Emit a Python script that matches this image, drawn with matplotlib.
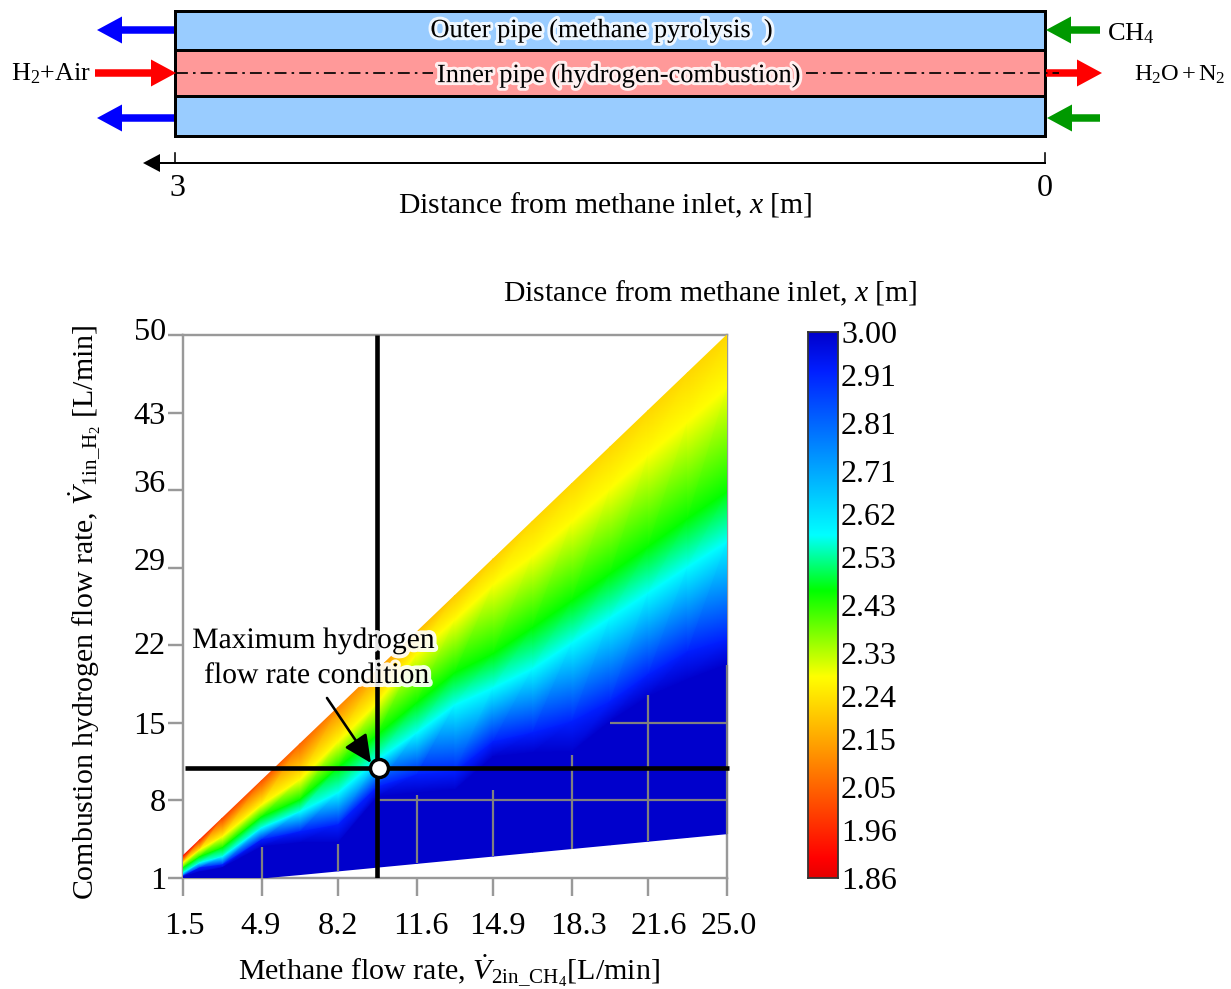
import numpy as np
import matplotlib
matplotlib.use("Agg")
import matplotlib.pyplot as plt
import matplotlib.tri as mtri
import matplotlib.patheffects as pe
from matplotlib.colors import LinearSegmentedColormap, Normalize
from matplotlib.patches import Rectangle, FancyArrow, FancyArrowPatch, Polygon
from matplotlib.transforms import ScaledTranslation

plt.rcParams['font.family'] = ['Liberation Serif', 'DejaVu Serif']
plt.rcParams['mathtext.fontset'] = 'custom'
plt.rcParams['mathtext.rm'] = 'Liberation Serif'
plt.rcParams['mathtext.it'] = 'Liberation Serif:italic'
plt.rcParams['mathtext.bf'] = 'Liberation Serif:bold'

# ---------- data ----------
x_ticks = [1.5, 4.9, 8.2, 11.6, 14.9, 18.3, 21.6, 25.0]
x_tick_labels = ['1.5', '4.9', '8.2', '11.6', '14.9', '18.3', '21.6', '25.0']
y_ticks = [1, 8, 15, 22, 29, 36, 43, 50]
cbar_ticks = [1.86, 1.96, 2.05, 2.15, 2.24, 2.33, 2.43, 2.53, 2.62, 2.71, 2.81, 2.91, 3.00]

# methane flow columns at which the distance bands were read
methane = [1.5, 2.23, 3.2, 4.9, 6.55, 8.2, 9.9, 11.6, 13.25, 14.9, 16.6, 18.3, 19.95, 21.6, 23.3, 25.0]
# hydrogen flow at the upper and lower limit of the mapped region
h2_top = [3.0, 4.46, 6.4, 9.8, 13.1, 16.4, 19.8, 23.2, 26.5, 29.8, 33.2, 36.6, 39.9, 43.2, 46.6, 50.0]
h2_bottom = [1.0, 1.0, 1.0, 1.0, 1.31, 1.64, 1.98, 2.32, 2.65, 2.98, 3.32, 3.66, 3.99, 4.32, 4.66, 5.0]
# distance on the upper limit
dist_top = [1.90, 1.95, 2.00, 2.02, 2.05, 2.10, 2.13, 2.18, 2.20, 2.21, 2.22, 2.22, 2.22, 2.22, 2.22, 2.22]
# hydrogen flow at which the distance reaches each band value
band_values = [2.28, 2.46, 2.576, 2.92, 3.0]
h2_yellow = [2.35, 3.53, 4.70, 7.59, 9.84, 13.27, 16.79, 21.2, 24.28, 27.44, 30.06, 33.13, 36.1, 39.17, 42.15, 45.22]
h2_green = [1.90, 2.90, 3.71, 6.50, 8.04, 10.93, 13.9, 16.79, 19.5, 21.21, 23.56, 26.0, 28.43, 30.87, 33.4, 35.83]
h2_cyan = [1.45, 2.35, 2.90, 5.51, 6.96, 8.67, 11.65, 14.08, 16.61, 18.15, 19.86, 22.2, 24.46, 26.72, 29.06, 31.32]
h2_blue = [1.18, 1.90, 2.17, 4.43, 5.15, 5.78, 9.21, 10.29, 10.57, 13.27, 14.08, 15.08, 16.88, 19.32, 21.39, 22.48]
h2_dark = [1.09, 1.54, 1.90, 3.80, 4.16, 4.16, 8.31, 8.67, 8.94, 11.92, 12.28, 12.37, 15.08, 17.33, 18.87, 20.22]

# maximum hydrogen flow rate condition
max_x, max_y = 9.9, 10.9

# grid segments that stay visible on the saturated (3.00) surface
sat_v_x = [4.9, 8.2, 11.6, 14.9, 18.3, 21.6, 25.0]
sat_v_top = [3.8, 4.07, 8.5, 8.9, 12.1, 17.5, 20.2]
sat_v_bottom = [1.0, 1.64, 2.32, 2.98, 3.66, 4.32, 5.0]
sat_h_y = [8, 15]
sat_h_left = [9.9, 19.95]

# ---------- figure ----------
W, H = 1231, 989
fig = plt.figure(figsize=(W / 100, H / 100), dpi=100)
px = 72 / 100  # points per pixel


def axpos(l, t, r, b):
    return [l / W, 1 - b / H, (r - l) / W, (b - t) / H]


# colormap with breaks at the band values
vmin, vmax = 1.86, 3.0
stops = [(1.86, (0.90, 0, 0)), (1.90, (1, 0, 0)), (2.28, (1, 1, 0)), (2.46, (0, 1, 0)),
         (2.576, (0, 1, 1)), (2.92, (0, 0.12, 1)), (3.0, (0, 0, 0.80))]
cmap = LinearSegmentedColormap.from_list('band', [((v - vmin) / (vmax - vmin), c) for v, c in stops], N=1024)
norm = Normalize(vmin, vmax)

# ---------- map ----------
ax = fig.add_axes(axpos(183, 335, 727, 878))
grid_c = '#999999'
ax.set_xlim(1.5, 25)
ax.set_ylim(1, 50)
ax.set_xticks(x_ticks)
ax.set_xticklabels(x_tick_labels)
ax.set_yticks(y_ticks)
ax.tick_params(axis='x', length=18 * px, width=2.4 * px, color=grid_c, labelsize=23.2, pad=16 * px)
ax.tick_params(axis='y', length=15 * px, width=2.4 * px, color=grid_c, labelsize=23.2, pad=2 * px)
ax.grid(True, color=grid_c, lw=2.4 * px, zorder=0)
ax.set_axisbelow(True)
for s in ax.spines.values():
    s.set_color(grid_c)
    s.set_linewidth(2.4 * px)
    s.set_zorder(0.5)

x_label_shift = [1, -1, 0, 4, 4, 7, 11, 2]
for lab, d in zip(ax.get_xticklabels(), x_label_shift):
    lab.set_transform(lab.get_transform() + ScaledTranslation(d / 100, 0, fig.dpi_scale_trans))
y_label_shift = [0, 0, 0, 2, 9, 9, 0, 6]
for lab, d in zip(ax.get_yticklabels(), y_label_shift):
    lab.set_transform(lab.get_transform() + ScaledTranslation(0, d / 100, fig.dpi_scale_trans))

columns = [h2_top, h2_yellow, h2_green, h2_cyan, h2_blue, h2_dark, h2_bottom]
nc, nl = len(methane), len(columns)
X = np.repeat(np.array(methane)[None, :], nl, axis=0)
Y = np.array(columns)
V = np.vstack([dist_top] + [np.full(nc, v) for v in band_values] + [np.full(nc, 3.0)])
tris = []
for j in range(nl - 1):
    for i in range(nc - 1):
        a = j * nc + i
        b = a + 1
        c = a + nc
        d = c + 1
        tris += [[a, b, c], [b, d, c]]
tri = mtri.Triangulation(X.ravel(), Y.ravel(), np.array(tris))
ax.tripcolor(tri, V.ravel(), cmap=cmap, norm=norm, shading='gouraud', zorder=1)

sat_c = '#808080'
for x0, yt, yb in zip(sat_v_x, sat_v_top, sat_v_bottom):
    ax.plot([x0, x0], [yb, yt], color=sat_c, lw=2.2 * px, zorder=2, solid_capstyle='butt', clip_on=False)
for y0, xl in zip(sat_h_y, sat_h_left):
    ax.plot([xl, 25], [y0, y0], color=sat_c, lw=2.2 * px, zorder=2, solid_capstyle='butt')

ax.plot([max_x - 0.02, max_x - 0.02], [1, 50], color='k', lw=4.6 * px, zorder=3, solid_capstyle='butt')
ax.plot([1.6, 25.1], [max_y, max_y], color='k', lw=4.6 * px, zorder=3, solid_capstyle='butt', clip_on=False)
ax.plot([max_x + 0.07], [max_y], 'o', ms=18 * px, mfc='white', mec='k', mew=3.4 * px, zorder=4)

# ---------- colorbar ----------
cax = fig.add_axes(axpos(808, 332, 838, 878))
grad = np.linspace(vmin, vmax, 1024)[:, None]
cax.imshow(grad, origin='lower', aspect='auto', cmap=cmap, norm=norm, extent=[0, 1, vmin, vmax])
cax.set_xticks([])
cax.yaxis.tick_right()
cax.set_yticks(cbar_ticks)
cax.set_yticklabels(['%.2f' % v for v in cbar_ticks])
cax.tick_params(axis='y', length=0, labelsize=23, pad=3 * px)
for s in cax.spines.values():
    s.set_color('#333333')
    s.set_linewidth(1.8 * px)

# ---------- schematic and labels in pixel space ----------
ov = fig.add_axes([0, 0, 1, 1], facecolor='none')
ov.set_xlim(0, W)
ov.set_ylim(H, 0)
ov.axis('off')

for (t, b, c) in [(11, 50, '#99CCFF'), (50, 96, '#FF9999'), (96, 136, '#99CCFF')]:
    ov.add_patch(Rectangle((175, t), 870, b - t, fc=c, ec='k', lw=3 * px, zorder=1))


def arrow(x0, x1, y, c):
    ov.add_patch(FancyArrow(x0, y, x1 - x0, 0, width=7.5, head_width=27, head_length=25,
                            length_includes_head=True, fc=c, ec='none', zorder=3))


arrow(174, 97, 30, '#0000FF')
arrow(174, 97, 118, '#0000FF')
arrow(1100, 1046, 30, '#009900')
arrow(1100, 1047, 118, '#009900')
arrow(95, 176, 73, '#FF0000')
arrow(1046, 1102, 73, '#FF0000')

for a, b in [(176, 433), (806, 1059)]:
    ov.plot([a, b], [73, 73], color='k', lw=1.7 * px, ls=(0, (7, 3, 1.5, 3)), zorder=4)

halo = [pe.withStroke(linewidth=6 * px, foreground='white', alpha=0.85)]
fs = 19
ov.text(602, 31, 'Outer pipe (methane pyrolysis  )', ha='center', va='center', fontsize=fs,
        path_effects=halo, zorder=5)
ov.text(619, 76, 'Inner pipe (hydrogen-combustion)', ha='center', va='center', fontsize=fs,
        path_effects=halo, zorder=5)
ov.text(11, 74, r'H$_2$+Air', ha='left', va='center', fontsize=18.8)
ov.text(1107, 34, r'CH$_4$', ha='left', va='center', fontsize=19)
ov.text(1134, 75, r'H$_2$O$\,$+$\,$N$_2$', ha='left', va='center', fontsize=17.6)

# dimension line
ov.plot([160, 1045], [163, 163], color='k', lw=2 * px, zorder=2)
ov.plot([175, 175], [153, 163], color='k', lw=1.6 * px)
ov.plot([1045, 1045], [153, 163], color='k', lw=1.6 * px)
ov.add_patch(Polygon([[143, 163], [160, 154], [160, 172]], closed=True, fc='k', ec='none'))
ov.text(177, 188, '3', ha='center', va='center', fontsize=23)
ov.text(1045, 188, '0', ha='center', va='center', fontsize=23)
ov.text(605, 205, r'Distance from methane inlet, $x$ [m]', ha='center', va='center', fontsize=21.3)
ov.text(710, 293, r'Distance from methane inlet, $x$ [m]', ha='center', va='center', fontsize=21.3)

ov.text(85, 612, r'Combustion hydrogen flow rate, $\dot{V}_{\mathrm{1in\_H_2}}$ [L/min]', rotation=90,
        ha='center', va='center', fontsize=21.5)
ov.text(449, 971, r'Methane flow rate, $\dot{V}_{\mathrm{2in\_CH_4}}$[L/min]', ha='center', va='center', fontsize=21.6)

halo2 = [pe.withStroke(linewidth=8 * px, foreground='white', alpha=0.9)]
ov.text(314, 641, 'Maximum hydrogen', ha='center', va='center', fontsize=21.3, path_effects=halo2, zorder=6)
ov.text(317, 676, 'flow rate condition', ha='center', va='center', fontsize=21.3, path_effects=halo2, zorder=6)
ov.add_patch(FancyArrowPatch((327, 698), (371, 763), arrowstyle='-|>,head_length=1.05,head_width=0.5',
                             mutation_scale=16, color='k', lw=2.6 * px, shrinkA=0, shrinkB=0, zorder=6))

fig.savefig('out.png', dpi=100)
